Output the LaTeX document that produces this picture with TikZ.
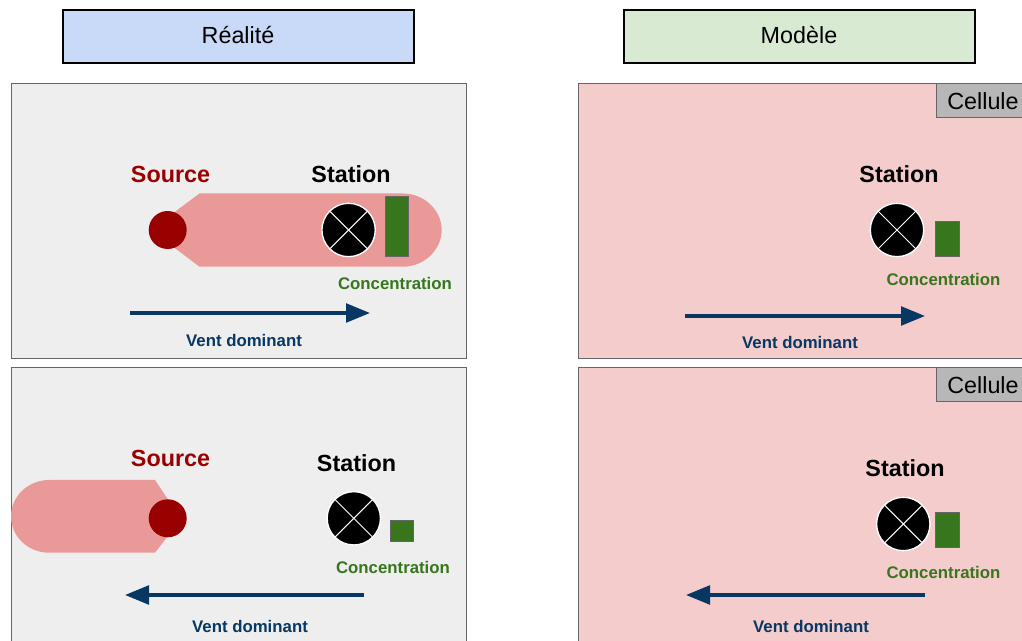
\documentclass[tikz,border=0pt]{standalone}
\usepackage{fontspec}
\setmainfont{Liberation Sans}
\usepackage{xcolor}
\usetikzlibrary{arrows.meta}

\definecolor{panelgray}{HTML}{EEEEEE}
\definecolor{panelrose}{HTML}{F4CCCC}
\definecolor{plumerose}{HTML}{EA9999}
\definecolor{sourcered}{HTML}{990000}
\definecolor{concgreen}{HTML}{38761D}
\definecolor{ventblue}{HTML}{073763}
\definecolor{framegray}{HTML}{666666}
\definecolor{cellgray}{HTML}{B7B7B7}
\definecolor{realblue}{HTML}{C9DAF8}
\definecolor{modgreen}{HTML}{D9EAD3}

\tikzset{
    header/.style={draw=black, line width=1.5pt, minimum width=263pt, minimum height=39.5pt, inner sep=0pt, anchor=north west},
    bigtext/.style={font=\fontsize{17.5}{20}\selectfont, anchor=base, inner sep=0pt},
    boldtext/.style={font=\fontsize{17.5}{20}\bfseries\selectfont, anchor=base, inner sep=0pt},
    smalltext/.style={font=\fontsize{12.6}{15}\bfseries\selectfont, anchor=base, inner sep=0pt},
    windarrow/.style={draw=ventblue, line width=2.6pt, -{Triangle[length=18pt, width=14pt, fill=ventblue]}},
}

\begin{document}
\begin{tikzpicture}[x=0.75pt, y=-0.75pt]
    \clip (0,0) rectangle (1022,641);
    \useasboundingbox (0,0) rectangle (1022,641);

    % Headers
    \node[header, fill=realblue] (hreal) at (62,9) {};
    \node[bigtext] (treal) at (238,44) {Réalité};
    \node[header, fill=modgreen] (hmod) at (623,9) {};
    \node[bigtext] (tmod) at (799,44) {Modèle};

    % Panels
    \foreach \xa/\ya/\xb/\yb/\c in {11/84/466/359/panelgray, 11/368/466/660/panelgray, 578/84/1040/359/panelrose, 578/368/1040/660/panelrose} {
        \draw[framegray, fill=\c, line width=0.75pt] (\xa,\ya) rectangle (\xb,\yb);
    }

    % Cells
    \foreach \y/\n in {84/a, 368/b} {
        \draw[framegray, fill=cellgray, line width=0.75pt] (936,\y) rectangle (1040,\y+34);
        \node[bigtext] (cell\n) at (983,\y+26) {Cellule};
    }

    % Plumes
    \fill[plumerose] (160,223) -- (199.5,193.5) -- (403,193.5)
        .. controls (424,193.5) and (441.7,210) .. (441.7,230)
        .. controls (441.7,250) and (424,266.7) .. (403,266.7)
        -- (199.5,266.7) -- (160,237) -- cycle;
    \fill[plumerose] (175,510) -- (155,480) -- (49,480)
        .. controls (28,480) and (11,496.5) .. (11,516.3)
        .. controls (11,536.5) and (28,552.7) .. (49,552.7)
        -- (155,552.7) -- (175,527) -- cycle;

    % Sources
    \foreach \y/\ty/\n in {230/183/a, 518.3/467/b} {
        \node[circle, fill=sourcered, minimum size=28.5pt, inner sep=0pt] (src\n) at (167.7,\y) {};
        \node[boldtext, sourcered] (tsrc\n) at (170.5,\ty) {Source};
    }

    % Stations
    \foreach \x/\y/\lx/\ly/\n in {348.6/230/351/183/a, 353.8/518.3/356.5/472/b, 897/230/899/183/c, 903.3/524/905/477/d} {
        \node[circle, fill=black, draw=white, line width=1pt, minimum size=40pt, inner sep=0pt] (st\n) at (\x,\y) {};
        \draw[white, line width=0.75pt] (st\n.45) -- (st\n.225);
        \draw[white, line width=0.75pt] (st\n.135) -- (st\n.315);
        \node[boldtext] (tst\n) at (\lx,\ly) {Station};
    }

    % Concentrations
    \foreach \x/\y/\h/\lx/\ly/\n in {385/196.7/60/395/290/a, 390.3/520.3/21/393/574/b, 935.7/222/34.7/943.5/286/c, 935.7/513/35/943.5/579/d} {
        \draw[framegray, fill=concgreen, line width=0.75pt] (\x,\y) rectangle (\x+23.5,\y+\h);
        \node[smalltext, concgreen] (conc\n) at (\lx,\ly) {Concentration};
    }

    % Wind
    \foreach \xa/\xb/\y/\lx/\ly/\n in {130/370/313/244/347/a, 364/125/595/250/633/b, 685/925/316/800/349/c, 925/686/595/811/633/d} {
        \coordinate (wa\n) at (\xa,\y);
        \coordinate (wb\n) at (\xb,\y);
        \draw[windarrow] (wa\n) -- (wb\n);
        \node[smalltext, ventblue] (vent\n) at (\lx,\ly) {Vent dominant};
    }
\end{tikzpicture}
\end{document}
